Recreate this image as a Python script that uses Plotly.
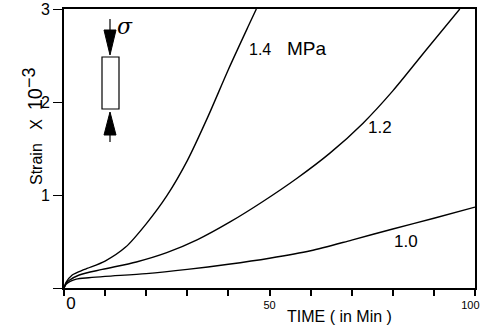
import plotly.graph_objects as go

# ---- data ----
t_10 = [0, 0.5, 1.5, 3, 6, 10, 20, 30, 40, 50, 60, 70, 80, 90, 100]
s_10 = [0, 0.04, 0.07, 0.095, 0.11, 0.125, 0.155, 0.20, 0.255, 0.32, 0.40, 0.515, 0.635, 0.75, 0.87]

t_12 = [0, 0.5, 1.2, 3.7, 9.3, 17.6, 25, 32.5, 40.4, 48.4, 56.7, 64.7, 72.7, 80, 88.3, 96.3]
s_12 = [0, 0.05, 0.08, 0.14, 0.20, 0.28, 0.38, 0.52, 0.71, 0.93, 1.18, 1.45, 1.77, 2.12, 2.57, 3.0]

t_14 = [0, 0.5, 2, 5, 10, 15, 20, 25, 30, 35, 40, 45, 46.8]
s_14 = [0, 0.06, 0.14, 0.20, 0.29, 0.44, 0.69, 0.99, 1.37, 1.84, 2.35, 2.83, 3.0]

x_tickvals = [0, 10, 20, 30, 40, 50, 60, 70, 80, 90, 100]
x_ticktext = ['<span style="font-size:17px">\u00a0\u00a0\u00a00</span>', ' ', ' ', ' ', ' ', '50',
              ' ', ' ', ' ', ' ', '100\u00a0\u00a0\u00a0']
y_tickvals = [0, 1, 2, 3]
y_ticktext = [' ', '1', '2', '3']

W, H = 490, 330
L, R, T, B = 64, 15, 9, 42
PW, PH = W - L - R, H - T - B
FONT = "Liberation Sans, Arial, sans-serif"


def px2x(px):
    return (px - L) / PW * 100.0


def py2y(py):
    return (T + PH - py) / PH * 3.0


fig = go.Figure()
for tt, ss in [(t_10, s_10), (t_12, s_12), (t_14, s_14)]:
    fig.add_trace(go.Scatter(x=tt, y=ss, mode="lines",
                             line=dict(color="black", width=1.4, shape="spline", smoothing=0.8),
                             showlegend=False, hoverinfo="skip"))

# curve labels
labels = [("1.4", 260, 49, 16), ("MPa", 307, 48, 19), ("1.2", 380, 127, 17), ("1.0", 406, 241, 17)]
for txt, px, py, fs in labels:
    fig.add_annotation(x=px2x(px), y=py2y(py), xref="x", yref="y", text=txt, showarrow=False,
                       font=dict(family=FONT, size=fs, color="black"), xanchor="center", yanchor="middle")

# axis titles
fig.add_annotation(x=(339 - L) / PW, y=(T + PH - 316) / PH, xref="paper", yref="paper",
                   text="TIME ( in Min )", showarrow=False, xanchor="center", yanchor="middle",
                   font=dict(family=FONT, size=16, color="black"))
fig.add_annotation(x=(32 - L) / PW, y=(T + PH - 127) / PH, xref="paper", yref="paper",
                   text='Strain\u00a0\u00a0\u00a0X\u00a0\u00a0<span style="font-size:20px">10</span>'
                        '<sup><span style="font-size:18px">\u22123</span></sup>',
                   showarrow=False, textangle=-90,
                   xanchor="center", yanchor="middle",
                   font=dict(family=FONT, size=16, color="black"))


# sigma icon (decoration)
def line(px0, py0, px1, py1, w=1.2):
    fig.add_shape(type="line", x0=px2x(px0), y0=py2y(py0), x1=px2x(px1), y1=py2y(py1),
                  xref="x", yref="y", line=dict(color="black", width=w))


def tri(pts):
    path = "M " + " L ".join(f"{px2x(a)},{py2y(b)}" for a, b in pts) + " Z"
    fig.add_shape(type="path", path=path, xref="x", yref="y",
                  fillcolor="black", line=dict(color="black", width=1))


cx = 110
line(cx, 19, cx, 30)
tri([(cx - 6, 30), (cx + 6, 30), (cx, 55)])
fig.add_shape(type="rect", x0=px2x(102), y0=py2y(57), x1=px2x(119), y1=py2y(109),
              xref="x", yref="y", line=dict(color="black", width=1.2), fillcolor="white")
tri([(cx, 112), (cx - 6, 135), (cx + 6, 135)])
line(cx, 135, cx, 142)
fig.add_annotation(x=px2x(125), y=py2y(26), xref="x", yref="y", text="<i>σ</i>", showarrow=False,
                   font=dict(family="DejaVu Serif, serif", size=22, color="black"),
                   xanchor="center", yanchor="middle")

fig.update_xaxes(range=[0, 100], tickmode="array", tickvals=x_tickvals, ticktext=x_ticktext,
                 ticks="outside", ticklen=6, tickwidth=1.5, tickcolor="black",
                 showline=True, linecolor="black", linewidth=1.5, mirror=True,
                 showgrid=False, zeroline=False, automargin=False,
                 ticklabeloverflow="allow",
                 tickfont=dict(family=FONT, size=11, color="black"))
fig.update_yaxes(range=[0, 3], tickmode="array", tickvals=y_tickvals, ticktext=y_ticktext,
                 ticks="outside", ticklen=9, tickwidth=1.2, tickcolor="black",
                 showline=True, linecolor="black", linewidth=1.8, mirror=True,
                 showgrid=False, zeroline=False, automargin=False,
                 ticklabeloverflow="allow",
                 tickfont=dict(family=FONT, size=16, color="black"))

fig.update_layout(width=W, height=H, margin=dict(l=L, r=R, t=T, b=B),
                  paper_bgcolor="white", plot_bgcolor="white",
                  font=dict(family=FONT, color="black"))

fig.write_html("out.html", config={"displayModeBar": False},
               post_script="document.body.style.margin='0';document.body.style.overflow='hidden';")
